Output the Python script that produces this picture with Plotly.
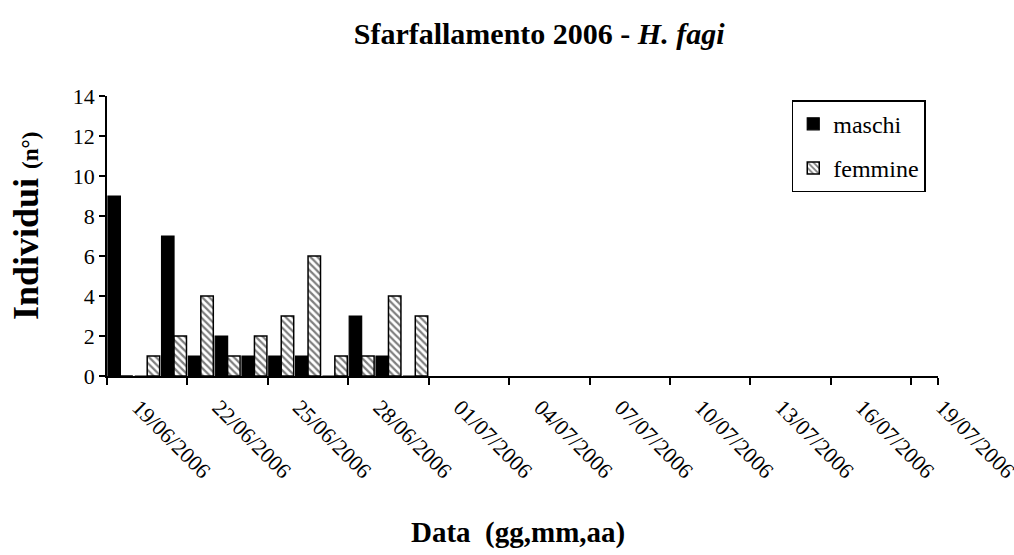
import plotly.graph_objects as go

all_dates = ["19/06/2006", "20/06/2006", "21/06/2006", "22/06/2006", "23/06/2006",
             "24/06/2006", "25/06/2006", "26/06/2006", "27/06/2006", "28/06/2006",
             "29/06/2006", "30/06/2006", "01/07/2006", "02/07/2006", "03/07/2006",
             "04/07/2006", "05/07/2006", "06/07/2006", "07/07/2006", "08/07/2006",
             "09/07/2006", "10/07/2006", "11/07/2006", "12/07/2006", "13/07/2006",
             "14/07/2006", "15/07/2006", "16/07/2006", "17/07/2006", "18/07/2006",
             "19/07/2006"]
sample_dates = all_dates[:12]
maschi = [9, 0, 7, 1, 2, 1, 1, 1, 0, 3, 1, 0]
femmine = [0, 1, 2, 4, 1, 2, 3, 6, 1, 1, 4, 3]
tick_labels = all_dates[::3]

FONT = "Liberation Serif, Times New Roman, serif"

fig = go.Figure()
fig.add_trace(go.Bar(
    x=sample_dates, y=maschi, name="maschi", legendgroup="m",
    marker=dict(color="black", line=dict(color="black", width=1.2)),
))
fig.add_trace(go.Bar(
    x=sample_dates, y=femmine, name="femmine", legendgroup="f",
    marker=dict(color="white", line=dict(color="black", width=1.5),
                pattern=dict(shape="\\", fgcolor="black", bgcolor="white",
                             size=5, solidity=0.45)),
))

fig.update_layout(
    width=1014, height=555,
    margin=dict(l=107, r=76, t=96, b=179),
    paper_bgcolor="white", plot_bgcolor="white",
    barmode="group", bargap=0.07, bargroupgap=0,
    font=dict(family=FONT, color="black", size=22),
    title=dict(text="<b>Sfarfallamento 2006 - <i>H. fagi</i></b>",
               x=0.52, xref="paper", xanchor="center",
               y=1 - 33 / 555, yref="container", yanchor="middle",
               font=dict(family=FONT, size=30, color="black")),
    legend=dict(x=0.824, y=0.985, xanchor="left", yanchor="top",
                bordercolor="black", borderwidth=1.5, bgcolor="white",
                font=dict(family=FONT, size=24, color="black"),
                traceorder="grouped", tracegroupgap=10, itemwidth=30),
    showlegend=True,
    annotations=[
        dict(text="<b>Individui <span style='font-size:23px'>(n°)</span></b>",
             textangle=-90, showarrow=False,
             xref="paper", yref="paper",
             x=(26 - 107) / 831, y=(376 - 226) / 280,
             xanchor="center", yanchor="middle",
             font=dict(family=FONT, size=36, color="black")),
        dict(text="<b>Data  (gg,mm,aa)</b>",
             showarrow=False,
             xref="paper", yref="paper",
             x=(518 - 107) / 831, y=(376 - 532) / 280,
             xanchor="center", yanchor="middle",
             font=dict(family=FONT, size=29, color="black")),
    ],
)

fig.update_xaxes(
    type="category", automargin=False,
    categoryorder="array", categoryarray=all_dates,
    tickmode="array", tickvals=tick_labels, ticktext=tick_labels,
    tickson="boundaries",
    tickangle=45,
    ticks="outside", ticklen=7, tickwidth=1.5, tickcolor="black",
    showline=True, linecolor="black", linewidth=1.5,
    showgrid=False,
    range=[-0.5, 30.5],
    tickfont=dict(family=FONT, size=22, color="black"),
    ticklabelstandoff=8, ticklabelshift=18,
)
fig.update_yaxes(
    range=[0, 14], dtick=2, automargin=False,
    ticks="outside", ticklen=6, tickwidth=1.5, tickcolor="black",
    showline=True, linecolor="black", linewidth=1.5,
    showgrid=False, zeroline=False,
    tickfont=dict(family=FONT, size=22, color="black"),
)

fig.write_html("out.html")
